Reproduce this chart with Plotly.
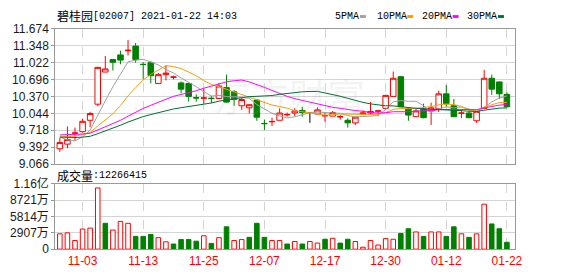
import plotly.graph_objects as go

# ---------------- data ----------------
dates = ["10-29", "10-30", "11-02", "11-03", "11-04", "11-05", "11-06", "11-09", "11-10", "11-11",
         "11-12", "11-13", "11-16", "11-17", "11-18", "11-19", "11-20", "11-23", "11-24", "11-25",
         "11-26", "11-27", "11-30", "12-01", "12-02", "12-03", "12-04", "12-07", "12-08", "12-09",
         "12-10", "12-11", "12-14", "12-15", "12-16", "12-17", "12-18", "12-21", "12-22", "12-23",
         "12-24", "12-28", "12-29", "12-30", "12-31", "01-04", "01-05", "01-06", "01-07", "01-08",
         "01-11", "01-12", "01-13", "01-14", "01-15", "01-18", "01-19", "01-20", "01-21", "01-22"]

opens = [9.36, 9.45, 9.66, 9.69, 9.91, 10.22, 10.84, 11.08, 11.17, 11.25,
         11.34, 10.99, 11.02, 10.62, 10.79, 10.74, 10.63, 10.62, 10.345, 10.335,
         10.335, 10.33, 10.54, 10.46, 10.19, 10.15, 10.30, 9.85, 9.88, 9.91,
         10.015, 10.05, 10.10, 10.06, 10.03, 9.995, 9.99, 9.975, 9.91, 9.86,
         10.03, 10.05, 10.085, 10.14, 10.37, 10.75, 10.13, 9.98, 10.13, 10.09,
         10.13, 10.42, 10.19, 10.045, 10.05, 9.90, 10.14, 10.72, 10.65, 10.41]
highs = [9.57, 9.79, 9.77, 9.94, 10.07, 10.94, 11.15, 11.09, 11.25, 11.46,
         11.40, 11.03, 11.05, 10.82, 10.97, 10.77, 10.66, 10.62, 10.41, 10.52,
         10.38, 10.63, 10.79, 10.49, 10.35, 10.22, 10.32, 9.92, 9.96, 10.14,
         10.06, 10.14, 10.17, 10.06, 10.16, 10.06, 10.09, 10.01, 9.95, 9.97,
         10.10, 10.26, 10.10, 10.40, 10.85, 10.76, 10.16, 10.13, 10.23, 10.25,
         10.48, 10.59, 10.32, 10.12, 10.08, 10.08, 10.88, 10.79, 10.65, 10.45]
lows = [9.30, 9.37, 9.51, 9.67, 9.78, 10.18, 10.84, 10.87, 10.99, 11.16,
        11.02, 10.70, 10.62, 10.62, 10.68, 10.70, 10.43, 10.27, 10.27, 10.23,
        10.24, 10.33, 10.25, 10.19, 10.11, 10.04, 9.90, 9.72, 9.80, 9.91,
        9.98, 9.99, 9.98, 9.86, 10.03, 9.88, 9.99, 9.92, 9.77, 9.82,
        10.01, 10.02, 9.99, 10.12, 10.37, 10.17, 9.90, 9.98, 9.95, 9.82,
        10.07, 10.17, 9.97, 9.95, 9.95, 9.86, 10.14, 10.40, 10.32, 10.16]
closes = [9.48, 9.54, 9.665, 9.89, 10.04, 10.93, 10.90, 11.03, 11.07, 11.26,
          11.08, 10.985, 10.77, 10.79, 10.82, 10.745, 10.51, 10.37, 10.34, 10.34,
          10.33, 10.57, 10.26, 10.31, 10.31, 10.21, 9.97, 9.845, 9.887, 10.05,
          10.02, 10.09, 10.06, 10.06, 10.11, 10.00, 10.06, 9.98, 9.86, 9.97,
          10.05, 10.08, 10.09, 10.39, 10.72, 10.17, 10.01, 10.09, 9.96, 10.15,
          10.42, 10.23, 9.98, 10.05, 9.96, 10.08, 10.72, 10.51, 10.42, 10.17]
# closes before the visible window (estimated from where the MA lines start)
prior_closes = [9.72, 9.70, 9.68, 9.55, 9.45, 9.38, 9.35, 9.36, 9.40, 9.42,
                9.50, 9.58, 9.66, 9.72, 9.75, 9.78, 9.74, 9.70, 9.66, 9.55,
                9.52, 9.55, 9.60, 9.64, 9.665, 9.80, 9.765, 9.50, 9.38]
volumes = [27260000, 28970000, 15340000, 35780000, 37490000, 109060000, 46010000, 34080000, 49420000, 46010000,
           22720000, 22720000, 26130000, 20450000, 13060000, 9090000, 17040000, 17040000, 14200000, 23860000,
           10220000, 20450000, 39760000, 15340000, 17040000, 21020000, 46010000, 21020000, 15340000, 15340000,
           9090000, 13630000, 9090000, 13630000, 10790000, 17610000, 19310000, 10790000, 17610000, 13630000,
           3410000, 15340000, 7380000, 18740000, 17610000, 27830000, 36350000, 30670000, 22720000, 30670000,
           30670000, 22720000, 39760000, 27260000, 21020000, 27260000, 80090000, 44870000, 36350000, 12266415]

label_idx = [3, 11, 19, 27, 35, 43, 51, 59]
price_ticks = [9.066, 9.392, 9.718, 10.044, 10.370, 10.696, 11.022, 11.348, 11.674]
price_tick_text = ["9.066", "9.392", "9.718", "10.044", "10.370", "10.696", "11.022", "11.348", "11.674"]
vol_ticks = [0, 29070000, 58140000, 87210000, 116280000]
vol_tick_text = ["0", "2907万", "5814万", "8721万", "1.16亿"]
ma_periods = [5, 10, 20, 30]
ma_names = ["5PMA", "10PMA", "20PMA", "30PMA"]
stock_name = "碧桂园"
stock_info = "[02007] 2021-01-22 14:03"
vol_label = "成交量"
vol_value = ":12266415"

# ---------------- styling ----------------
W, H = 578, 276
L, R = 56, 522
MAIN_T, MAIN_B = 22, 165
VOL_T, VOL_B = 186, 255
RED = "#ff0000"
GREEN = "#008000"
GRID = "#d4d4d4"
FRAME = "#999999"
ma_colors = ["#a0a0a0", "#f5a000", "#ff00ff", "#006e32"]
CJK = "Noto Sans CJK SC"
MONO = "Liberation Mono"


def px(x):
    return x / W


def py(y):
    return 1 - y / H


n = len(closes)
xs = list(range(n))
all_c = prior_closes + closes
off = len(prior_closes)

fig = go.Figure()

# moving averages
for per, col in zip(ma_periods, ma_colors):
    vals = []
    for i in range(n):
        seg = all_c[off + i - per + 1: off + i + 1]
        vals.append(sum(seg) / per)
    fig.add_trace(go.Scatter(x=xs, y=vals, mode="lines", line=dict(color=col, width=1),
                             xaxis="x", yaxis="y", hoverinfo="skip", showlegend=False))

# candles (flat ones, open == close, drawn black separately)
flat = [opens[i] == closes[i] for i in range(n)]
fig.add_trace(go.Candlestick(
    x=xs,
    open=[None if flat[i] else opens[i] for i in range(n)],
    high=[None if flat[i] else highs[i] for i in range(n)],
    low=[None if flat[i] else lows[i] for i in range(n)],
    close=[None if flat[i] else closes[i] for i in range(n)],
    increasing=dict(line=dict(color=RED, width=1), fillcolor="white"),
    decreasing=dict(line=dict(color=GREEN, width=1), fillcolor=GREEN),
    xaxis="x", yaxis="y", showlegend=False, hoverinfo="skip"))
if any(flat):
    fx = [i for i in range(n) if flat[i]]
    fig.add_trace(go.Candlestick(
        x=fx, open=[opens[i] for i in fx], high=[highs[i] for i in fx],
        low=[lows[i] for i in fx], close=[closes[i] for i in fx],
        increasing=dict(line=dict(color="black", width=1), fillcolor="black"),
        decreasing=dict(line=dict(color="black", width=1), fillcolor="black"),
        xaxis="x", yaxis="y", showlegend=False, hoverinfo="skip"))

# volume bars: colour by close vs previous close
prev = [prior_closes[-1]] + closes[:-1]
up = [closes[i] >= prev[i] for i in range(n)]
fig.add_trace(go.Bar(
    x=xs, y=volumes, width=0.6,
    marker=dict(color=["white" if u else GREEN for u in up],
                line=dict(color=[RED if u else GREEN for u in up], width=1)),
    xaxis="x2", yaxis="y2", showlegend=False, hoverinfo="skip"))

xdom = [px(L), px(R)]
xrange = [-0.61, 60.04]
common_x = dict(domain=xdom, range=xrange, tickmode="array", tickvals=label_idx,
                showgrid=True, gridcolor=GRID, griddash="dash", gridwidth=1,
                showline=True, linecolor=FRAME, linewidth=1, mirror=True,
                zeroline=False, ticks="", fixedrange=True)

fig.update_layout(
    width=W, height=H, autosize=False,
    margin=dict(l=0, r=0, t=0, b=0),
    paper_bgcolor="white", plot_bgcolor="white",
    showlegend=False, hovermode=False,
    boxgap=0.27, boxgroupgap=0,
    xaxis=dict(**common_x, anchor="y", showticklabels=False, rangeslider=dict(visible=False)),
    xaxis2=dict(**common_x, anchor="y2", matches="x", showticklabels=True,
                ticktext=[dates[i] for i in label_idx],
                tickfont=dict(family="Liberation Sans", size=12, color=RED),
                rangeslider=dict(visible=False)),
    yaxis=dict(domain=[py(MAIN_B), py(MAIN_T)], range=[price_ticks[0], price_ticks[-1]],
               tickmode="array", tickvals=price_ticks, ticktext=price_tick_text,
               tickfont=dict(family="Liberation Sans", size=12, color="#1a1a1a"),
               showgrid=True, gridcolor=GRID, gridwidth=1,
               showline=True, linecolor=FRAME, linewidth=1, mirror=True,
               ticks="outside", ticklen=3, tickcolor=FRAME, zeroline=False, fixedrange=True),
    yaxis2=dict(domain=[py(VOL_B), py(VOL_T)], range=[vol_ticks[0], vol_ticks[-1]],
                tickmode="array", tickvals=vol_ticks, ticktext=vol_tick_text,
                tickfont=dict(family="Liberation Sans, " + CJK, size=12, color="#1a1a1a"),
                showgrid=True, gridcolor=GRID, gridwidth=1,
                showline=True, linecolor=FRAME, linewidth=1, mirror=True,
                ticks="outside", ticklen=3, tickcolor=FRAME, zeroline=False, fixedrange=True),
)

ann = []


def text_at(t, x, y, family, size, color="black", anchor="left"):
    ann.append(dict(text=t, x=px(x), y=py(y), xref="paper", yref="paper",
                    xanchor=anchor, yanchor="middle", showarrow=False,
                    font=dict(family=family, size=size, color=color)))


# title
text_at(stock_name, 56, 8, CJK, 12)
text_at(stock_info, 92, 8.5, MONO, 10)
# volume title
text_at(vol_label, 56, 177, CJK, 12)
text_at(vol_value, 92, 177.5, MONO, 10)
# watermark
text_at("东方财富", 293, 91, CJK, 38, "rgba(160,160,160,0.14)", "center")
# MA legend
leg_text_x = [338, 380, 426, 472]
leg_rect_x = [365, 413, 459, 505]
shapes = []
for name, col, tx, rx in zip(ma_names, ma_colors, leg_text_x, leg_rect_x):
    text_at(name, tx, 8.5, MONO, 10)
    shapes.append(dict(type="rect", xref="paper", yref="paper",
                       x0=px(rx), x1=px(rx + 6), y0=py(10.5), y1=py(7.5),
                       fillcolor=col, line=dict(width=0)))

fig.update_layout(annotations=ann, shapes=shapes)

fig.write_html("out.html")
